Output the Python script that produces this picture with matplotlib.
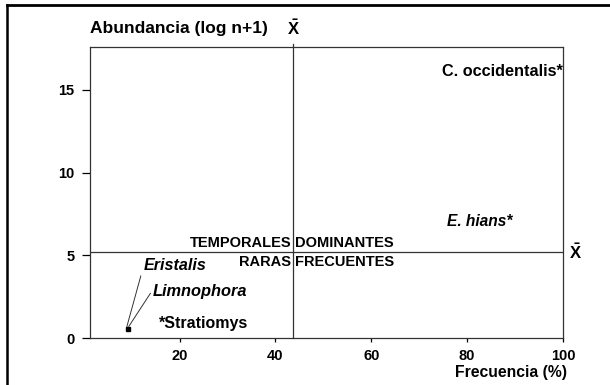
import matplotlib
matplotlib.use("Agg")
import matplotlib.pyplot as plt
from matplotlib.lines import Line2D

plt.rcParams['font.family'] = ['Liberation Sans', 'DejaVu Sans']
plt.rcParams['font.weight'] = 'bold'
plt.rcParams['mathtext.fontset'] = 'custom'
plt.rcParams['mathtext.rm'] = 'Liberation Sans:bold'
plt.rcParams['mathtext.bf'] = 'Liberation Sans:bold'
plt.rcParams['mathtext.it'] = 'Liberation Sans:bold'

# Data
species = ["C. occidentalis", "E. hians", "Eristalis", "Limnophora", "Stratiomys"]
frecuencia = [100.0, 89.5, 9.2, 9.2, 16.0]
abundancia = [16.5, 7.5, 0.55, 0.55, 1.25]
mean_frec = 43.7
mean_abund = 5.2
x_ticks = [20, 40, 60, 80, 100]
y_ticks = [0, 5, 10, 15]
quadrants = ["TEMPORALES", "DOMINANTES", "RARAS", "FRECUENTES"]

fig = plt.figure(figsize=(6.1, 3.85), dpi=100)
ax = fig.add_axes([90/610, 47/385, (563-90)/610, (338-47)/385])
ax.set_xlim(1.3, 100)
ax.set_ylim(0, 17.6)

for s in ax.spines.values():
    s.set_linewidth(0.9)
    s.set_color('#333333')

ax.set_xticks(x_ticks)
ax.set_yticks(y_ticks)
ax.tick_params(axis='x', direction='out', length=3, width=0.9, pad=5, labelsize=10.5)
ax.tick_params(axis='y', direction='out', length=6, width=0.9, pad=5, labelsize=10.5)
for lab in ax.get_xticklabels() + ax.get_yticklabels():
    lab.set_fontweight('bold')

# mean lines
ax.axvline(mean_frec, color='#333333', lw=0.9, ymax=1.01, clip_on=False)
ax.axhline(mean_abund, color='#333333', lw=0.9)
ax.text(mean_frec, 1.03, r"$\bar{\mathrm{X}}$", transform=ax.get_xaxis_transform(),
        ha='center', va='bottom', fontsize=12)
ax.text(1.012, mean_abund, r"$\bar{\mathrm{X}}$", transform=ax.get_yaxis_transform(),
        ha='left', va='center', fontsize=12)

# quadrant labels
fs_q = 10.5
ax.text(mean_frec - 0.4, mean_abund + 0.55, quadrants[0], ha='right', va='center', fontsize=fs_q)
ax.text(mean_frec + 0.4, mean_abund + 0.55, quadrants[1], ha='left', va='center', fontsize=fs_q)
ax.text(mean_frec - 0.4, mean_abund - 0.6, quadrants[2], ha='right', va='center', fontsize=fs_q)
ax.text(mean_frec + 0.4, mean_abund - 0.6, quadrants[3], ha='left', va='center', fontsize=fs_q)

# points
# C. occidentalis
ax.text(frecuencia[0], abundancia[0] + 0.1, species[0] + "*", ha='right', va='top', fontsize=11.7)
# E. hians
ax.text(frecuencia[1], abundancia[1], species[1] + "*", ha='right', va='top', fontsize=11.2, style='italic')
# Eristalis / Limnophora common point
ax.plot([frecuencia[2]], [abundancia[2]], marker='s', ms=3, color='black', lw=0)
ax.plot([frecuencia[2] - 0.2, 11.9], [abundancia[2] + 0.15, 3.75], color='#333333', lw=0.7)
ax.plot([frecuencia[3] + 0.2, 13.9], [abundancia[3] + 0.15, 2.7], color='#333333', lw=0.7)
ax.text(12.5, 4.4, species[2], ha='left', va='center', fontsize=11.6, style='italic')
ax.text(14.4, 2.8, species[3], ha='left', va='center', fontsize=11.8, style='italic')
# Stratiomys
ax.text(frecuencia[4] - 0.4, abundancia[4] + 0.1, "*" + species[4], ha='left', va='top', fontsize=11.5)

# axis titles
fig.text(90/610, 1 - 28/385, "Abundancia (log n+1)", ha='left', va='center', fontsize=12.5, fontweight='bold')
fig.text(567/610, 1 - 373/385, "Frecuencia (%)", ha='right', va='center', fontsize=11.3, fontweight='bold')

# outer frame (left and top)
fig.add_artist(Line2D([7/610, 7/610], [0, 1 - 5/385], transform=fig.transFigure, color='black', lw=1.8))
fig.add_artist(Line2D([7/610, 1], [1 - 5/385, 1 - 5/385], transform=fig.transFigure, color='black', lw=2))

fig.savefig("out.png", dpi=100)
